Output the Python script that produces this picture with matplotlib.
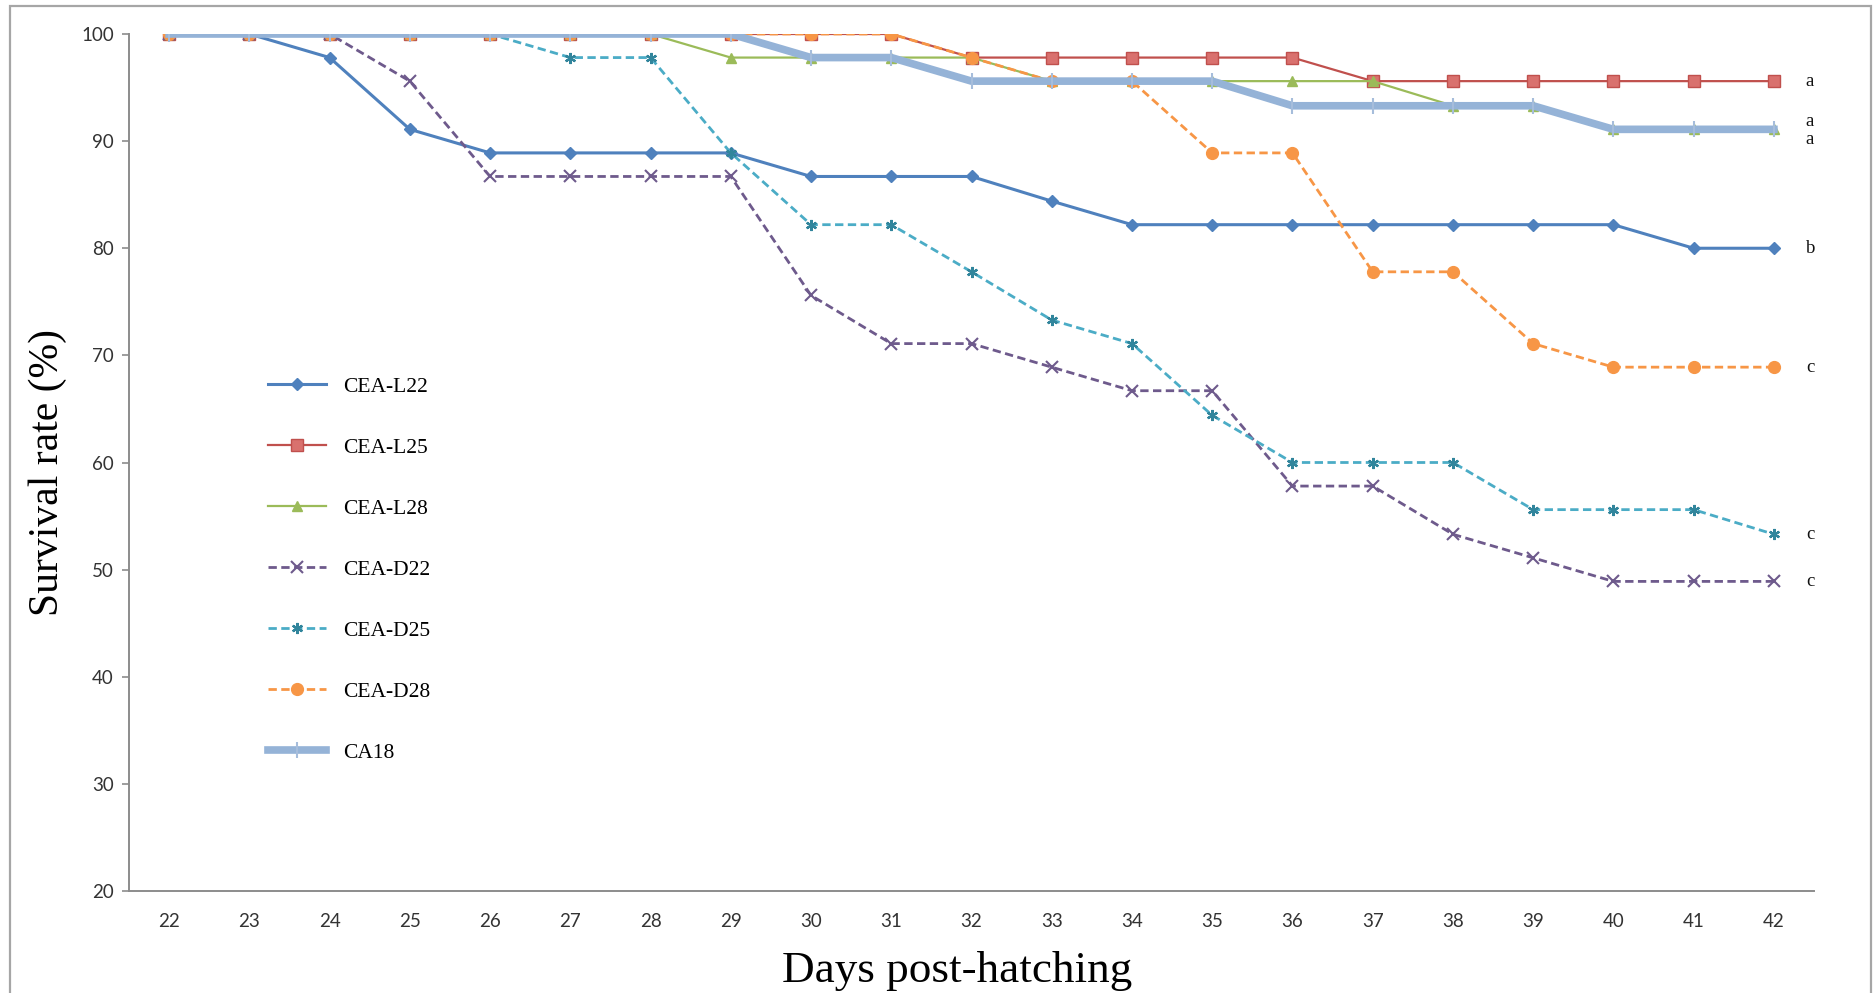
import matplotlib.pyplot as plt
from matplotlib.patches import Rectangle

# survival (%) per day post-hatching, one list per treatment
days = list(range(22, 43))
cea_l22 = [100, 100, 97.8, 91.1, 88.9, 88.9, 88.9, 88.9, 86.7, 86.7, 86.7,
           84.4, 82.2, 82.2, 82.2, 82.2, 82.2, 82.2, 82.2, 80.0, 80.0]
cea_l25 = [100, 100, 100, 100, 100, 100, 100, 100, 100, 100, 97.8,
           97.8, 97.8, 97.8, 97.8, 95.6, 95.6, 95.6, 95.6, 95.6, 95.6]
cea_l28 = [100, 100, 100, 100, 100, 100, 100, 97.8, 97.8, 97.8, 97.8,
           95.6, 95.6, 95.6, 95.6, 95.6, 93.3, 93.3, 91.1, 91.1, 91.1]
cea_d22 = [100, 100, 100, 95.6, 86.7, 86.7, 86.7, 86.7, 75.6, 71.1, 71.1,
           68.9, 66.7, 66.7, 57.8, 57.8, 53.3, 51.1, 48.9, 48.9, 48.9]
cea_d25 = [100, 100, 100, 100, 100, 97.8, 97.8, 88.9, 82.2, 82.2, 77.8,
           73.3, 71.1, 64.4, 60.0, 60.0, 60.0, 55.6, 55.6, 55.6, 53.3]
cea_d28 = [100, 100, 100, 100, 100, 100, 100, 100, 100, 100, 97.8,
           95.6, 95.6, 88.9, 88.9, 77.8, 77.8, 71.1, 68.9, 68.9, 68.9]
ca18 = [100, 100, 100, 100, 100, 100, 100, 100, 97.8, 97.8, 95.6,
        95.6, 95.6, 95.6, 93.3, 93.3, 93.3, 93.3, 91.1, 91.1, 91.1]

# significance letters at the line ends: (letter, y value, y offset in pt)
end_letters = ["a", "a", "a", "b", "c", "c", "c"]
end_values = [95.6, 91.1, 91.1, 80.0, 68.9, 53.3, 48.9]
end_dy = [0, 6, -7, 0, 0, 0, 0]

serif = ["Liberation Serif", "DejaVu Serif"]
sans = ["Lato", "DejaVu Sans"]

fig = plt.figure(figsize=(18.76, 9.93), dpi=100)
ax = fig.add_axes([129 / 1876, 1 - 891 / 993, (1814 - 129) / 1876, (891 - 34) / 993])

dash = (0, (3, 1.6))
ax.plot(days, cea_l22, color="#4F81BD", lw=2.2, marker="D", ms=6,
        mec="#4F81BD", label="CEA-L22")
ax.plot(days, cea_l25, color="#C0504D", lw=1.6, marker="s", ms=8.5,
        mfc="#D9716E", mec="#C0504D", label="CEA-L25")
ax.plot(days, cea_l28, color="#9BBB59", lw=1.6, marker="^", ms=7.5,
        label="CEA-L28")
ax.plot(days, cea_d22, color="#6E5A8C", lw=2.0, ls=dash, marker="x", ms=8,
        mew=1.5, label="CEA-D22")
ax.plot(days, cea_d25, color="#4BACC6", lw=2.0, ls=dash, marker=(6, 2, 0),
        ms=8, mew=1.6, mec="#31859C", label="CEA-D25")
ax.plot(days, cea_d28, color="#F79646", lw=2.0, ls=dash, marker="o", ms=8.5,
        label="CEA-D28")
ax.plot(days, ca18, color="#95B3D7", lw=5.5, marker="|", ms=12, mew=1.5,
        mec="#A6BDDB", label="CA18")

for letter, v, dy in zip(end_letters, end_values, end_dy):
    ax.annotate(letter, (days[-1], v), xytext=(23, dy), textcoords="offset points",
                ha="left", va="center", fontsize=13.5, family=serif, color="#111111")

ax.set_xlim(21.5, 42.5)
ax.set_ylim(20, 100)
ax.set_xticks(days)
ax.set_yticks(range(20, 101, 10))
ax.tick_params(axis="x", length=0, pad=16, labelsize=13.5, labelcolor="#333333")
ax.tick_params(axis="y", length=5, width=1.2, color="#8C8C8C", pad=6,
               labelsize=13.5, labelcolor="#333333")
for lab in ax.get_xticklabels() + ax.get_yticklabels():
    lab.set_family(sans)

for side in ("top", "right"):
    ax.spines[side].set_visible(False)
for side in ("left", "bottom"):
    ax.spines[side].set_color("#8C8C8C")
    ax.spines[side].set_linewidth(1.4)

fig.text(48 / 1876, 1 - 473 / 993, "Survival rate (%)", rotation=90,
         ha="center", va="center", fontsize=30, family=serif)
fig.text(957 / 1876, 1 - 971 / 993, "Days post-hatching",
         ha="center", va="center", fontsize=32.5, family=serif)

ax.legend(loc="upper left", bbox_to_anchor=(257 / 1876, 1 - 366 / 993),
          bbox_transform=fig.transFigure, frameon=False, borderpad=0,
          handlelength=2.7, handletextpad=0.8, labelspacing=1.9,
          prop={"family": serif, "size": 15.5})

# outer chart border
fig.patches.append(Rectangle((10 / 1876, -0.02), (1871 - 10) / 1876, 1.02 - 6 / 993,
                             transform=fig.transFigure, fill=False,
                             edgecolor="#A6A6A6", lw=1.6))

fig.savefig("out.png", dpi=100)
